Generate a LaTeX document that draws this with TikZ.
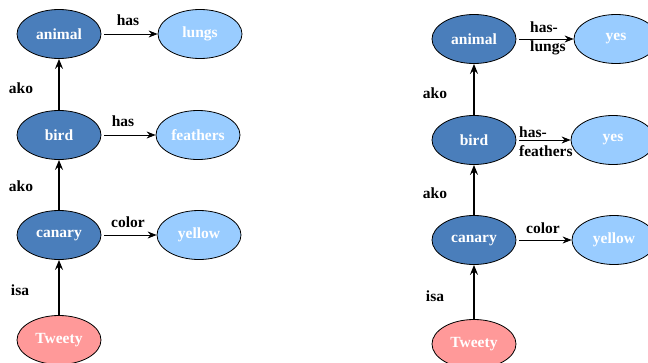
\documentclass[tikz,border=0pt]{standalone}
\usepackage{fontspec}
\setmainfont{Liberation Serif}
\usetikzlibrary{shapes.geometric,arrows.meta}
\definecolor{classblue}{RGB}{74,126,187}
\definecolor{valueblue}{RGB}{153,204,255}
\definecolor{instpink}{RGB}{255,153,153}
\begin{document}
\begin{tikzpicture}[x=1pt,y=-1pt,
  font=\fontsize{15.5}{19}\selectfont\bfseries,
  frame/.style={ellipse,draw=black,line width=0.8pt,minimum width=84pt,minimum height=49pt,inner sep=0pt,text=white},
  cls/.style={frame,fill=classblue},
  val/.style={frame,fill=valueblue},
  inst/.style={frame,fill=instpink},
  slotarrow/.style={-{Stealth[length=9pt,width=7pt,inset=3pt]},line width=0.8pt,shorten <=3pt},
  linkarrow/.style={-{Stealth[length=10pt,width=8pt,inset=3.5pt]},line width=2.6pt},
  lbl/.style={text=black,inner sep=0pt,align=left}]
\useasboundingbox (0,0) rectangle (648,362);

% ---- left network ----
\node[cls] (animalL) at (59,34) {animal};
\node[val] (lungsL) at (200,34) {lungs};
\node[cls] (birdL) at (59,135) {bird};
\node[val] (feathersL) at (198,135) {feathers};
\node[cls] (canaryL) at (59,235) {canary};
\node[val] (yellowL) at (199,235) {yellow};
\node[inst] (tweetyL) at (59,340) {Tweety};

\draw[linkarrow] (birdL.north) -- (animalL.south);
\draw[linkarrow] (canaryL.north) -- (birdL.south);
\draw[linkarrow] (tweetyL.north) -- (canaryL.south);
\draw[slotarrow] (animalL.east) -- (lungsL.west);
\draw[slotarrow] (birdL.east) -- (feathersL.west);
\draw[slotarrow] (canaryL.east) -- (yellowL.west);

\node[lbl] (akoL1) at (21,88) {ako};
\node[lbl] (akoL2) at (21,186) {ako};
\node[lbl] (isaL) at (20,290) {isa};
\node[lbl] (hasL1) at (128,20) {has};
\node[lbl] (hasL2) at (123,121) {has};
\node[lbl] (colorL) at (128,222) {color};

% ---- right network ----
\node[cls] (animalR) at (474,39) {animal};
\node[val] (yesR1) at (616,39) {yes};
\node[cls] (birdR) at (474,140) {bird};
\node[val] (yesR2) at (613,140) {yes};
\node[cls] (canaryR) at (474,240) {canary};
\node[val] (yellowR) at (614,240) {yellow};
\node[inst] (tweetyR) at (474,344) {Tweety};

\draw[linkarrow] (birdR.north) -- (animalR.south);
\draw[linkarrow] (canaryR.north) -- (birdR.south);
\draw[linkarrow] (tweetyR.north) -- (canaryR.south);
\draw[slotarrow] (animalR.east) -- (yesR1.west);
\draw[slotarrow] (birdR.east) -- (yesR2.west);
\draw[slotarrow] (canaryR.east) -- (yellowR.west);

\node[lbl] (akoR1) at (435,93) {ako};
\node[lbl] (akoR2) at (435,193) {ako};
\node[lbl] (isaR) at (435,296) {isa};
\node[lbl,anchor=west] (hasLungs) at (530,38) {has-\\lungs};
\node[lbl,anchor=west] (hasFeathers) at (519,142) {has-\\feathers};
\node[lbl] (colorR) at (543,228) {color};
\end{tikzpicture}
\end{document}
